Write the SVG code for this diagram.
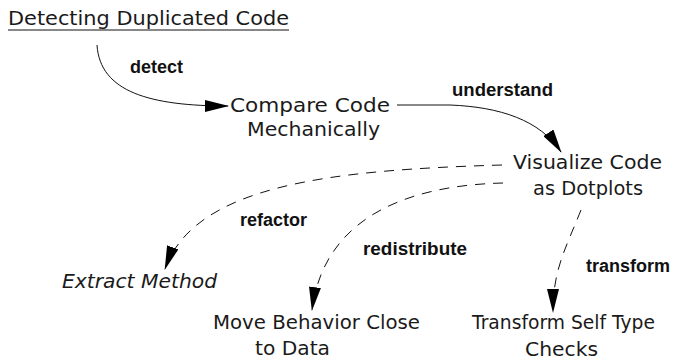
<svg xmlns="http://www.w3.org/2000/svg" width="674" height="362" viewBox="0 0 674 362">
<style>
.lbl{font-family:"DejaVu Sans","Liberation Sans",sans-serif;font-size:20px;fill:#1a1a1a;}
.it{font-style:italic;}
.ed{font-family:"Liberation Sans",Arial,sans-serif;font-size:18px;font-weight:bold;fill:#111;}
.c{fill:none;stroke:#111;stroke-width:1;}
.d{stroke-dasharray:10 8;}
</style>
<defs>
<marker id="ah" markerUnits="userSpaceOnUse" markerWidth="24" markerHeight="12" refX="23" refY="6" orient="auto" viewBox="0 0 24 12">
<path d="M0,0 L24,6 L0,12 z" fill="#000"/>
</marker>
</defs>
<rect width="674" height="362" fill="#fff"/>
<g id="connectors">
<path class="c" d="M97,45 C100,92 150,106 228,106" marker-end="url(#ah)"/>
<path class="c" d="M397,105 L450,105 C500,107 540,120 561,152" marker-end="url(#ah)"/>
<path class="c d" d="M502,165 C330,170 195,185 165,269" marker-end="url(#ah)"/>
<path class="c d" d="M503,183 C420,185 325,210 312,310" marker-end="url(#ah)"/>
<path class="c d" d="M581,210 C565,250 553,270 553,312" marker-end="url(#ah)"/>
<text class="ed" x="130" y="73">detect</text>
<text class="ed" x="452" y="96" textLength="101" lengthAdjust="spacingAndGlyphs">understand</text>
<text class="ed" x="240" y="226">refactor</text>
<text class="ed" x="363" y="255" textLength="104" lengthAdjust="spacingAndGlyphs">redistribute</text>
<text class="ed" x="586" y="272" textLength="84" lengthAdjust="spacingAndGlyphs">transform</text>
</g>
<g id="title">
<text class="lbl" x="8" y="25" textLength="281" lengthAdjust="spacingAndGlyphs">Detecting Duplicated Code</text>
<line x1="8" y1="30" x2="289" y2="30" stroke="#111" stroke-width="1"/>
</g>
<g id="compare">
<text class="lbl" x="230" y="112" textLength="160" lengthAdjust="spacingAndGlyphs">Compare Code</text>
<text class="lbl" x="247" y="136" textLength="133" lengthAdjust="spacingAndGlyphs">Mechanically</text>
</g>
<g id="visualize">
<text class="lbl" x="513" y="169" textLength="149" lengthAdjust="spacingAndGlyphs">Visualize Code</text>
<text class="lbl" x="533" y="195" textLength="110" lengthAdjust="spacingAndGlyphs">as Dotplots</text>
</g>
<g id="extract">
<text class="lbl it" x="62" y="288" textLength="155" lengthAdjust="spacingAndGlyphs">Extract Method</text>
</g>
<g id="move">
<text class="lbl" x="213" y="329" textLength="207" lengthAdjust="spacingAndGlyphs">Move Behavior Close</text>
<text class="lbl" x="255" y="355" textLength="75" lengthAdjust="spacingAndGlyphs">to Data</text>
</g>
<g id="transform">
<text class="lbl" x="472" y="329" textLength="183" lengthAdjust="spacingAndGlyphs">Transform Self Type</text>
<text class="lbl" x="525" y="356" textLength="73" lengthAdjust="spacingAndGlyphs">Checks</text>
</g>
</svg>
